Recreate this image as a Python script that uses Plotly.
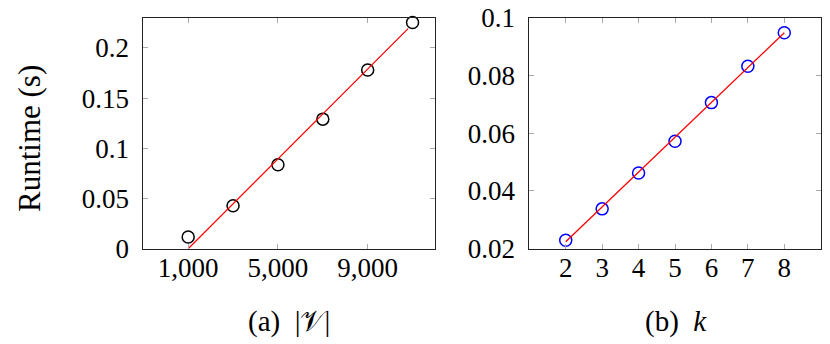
import plotly.graph_objects as go

# ---- data ----
v_sizes = [1000, 3000, 5000, 7000, 9000, 11000]
v_runtime = [0.0116, 0.0428, 0.0836, 0.129, 0.178, 0.2253]
v_fit_x = [1000, 10800]
v_fit_y = [0.0, 0.2191]

k_values = [2, 3, 4, 5, 6, 7, 8]
k_runtime = [0.0229, 0.0338, 0.0462, 0.0572, 0.0706, 0.0832, 0.0948]
k_fit_x = [2, 8]
k_fit_y = [0.0224, 0.0948]

left_xticks = [1000, 5000, 9000]
left_xticktext = ["1,000", "5,000", "9,000"]
left_yticks = [0, 0.05, 0.1, 0.15, 0.2]
left_yticktext = ["0", "0.05", "0.1", "0.15", "0.2"]
right_xticks = [2, 3, 4, 5, 6, 7, 8]
right_yticks = [0.02, 0.04, 0.06, 0.08, 0.1]
right_yticktext = ["0.02", "0.04", "0.06", "0.08", "0.1"]

W, H = 830, 344
FONT = "Liberation Serif"

fig = go.Figure()

fig.add_trace(go.Scatter(x=v_sizes, y=v_runtime, mode="markers",
                         marker=dict(symbol="circle-open", size=12, color="black",
                                     line=dict(width=1.5, color="black")),
                         xaxis="x", yaxis="y", showlegend=False, cliponaxis=False))
fig.add_trace(go.Scatter(x=v_fit_x, y=v_fit_y, mode="lines",
                         line=dict(color="#ff0000", width=1.3),
                         xaxis="x", yaxis="y", showlegend=False))
fig.add_trace(go.Scatter(x=k_values, y=k_runtime, mode="markers",
                         marker=dict(symbol="circle-open", size=12, color="#0000ff",
                                     line=dict(width=1.5, color="#0000ff")),
                         xaxis="x2", yaxis="y2", showlegend=False, cliponaxis=False))
fig.add_trace(go.Scatter(x=k_fit_x, y=k_fit_y, mode="lines",
                         line=dict(color="#ff0000", width=1.3),
                         xaxis="x2", yaxis="y2", showlegend=False))

def px_x(p):
    return p / W

def px_y(p):
    return (H - p) / H

axis_common = dict(showline=True, linecolor="#222", linewidth=1, mirror="ticks",
                   ticks="inside", ticklen=5, tickcolor="#aaa", tickwidth=1,
                   showgrid=False, zeroline=False, ticklabeloverflow="allow",
                   tickfont=dict(family=FONT, size=27, color="black"))

ydom = [px_y(248.7), px_y(17.7)]

fig.update_layout(
    width=W, height=H,
    margin=dict(l=0, r=0, t=0, b=0, autoexpand=False),
    paper_bgcolor="white", plot_bgcolor="white",
    xaxis=dict(domain=[px_x(143.3), px_x(435)], range=[-1000, 12000], anchor="y",
               tickvals=left_xticks, ticktext=left_xticktext, ticklabelstandoff=-5,
               **axis_common),
    yaxis=dict(domain=ydom, range=[0, 0.23], anchor="x",
               tickvals=left_yticks, ticktext=left_yticktext, ticklabelstandoff=8,
               **axis_common),
    xaxis2=dict(domain=[px_x(529.3), px_x(820.7)], range=[1, 9], anchor="y2",
                tickvals=right_xticks, ticklabelstandoff=-5, **axis_common),
    yaxis2=dict(domain=ydom, range=[0.02, 0.10001], anchor="x2",
                tickvals=right_yticks, ticktext=right_yticktext, ticklabelstandoff=8,
                **axis_common),
)

fig.add_annotation(text="Runtime (s)", textangle=-90, xref="paper", yref="paper",
                   x=px_x(29), y=px_y(139), xanchor="center", yanchor="middle",
                   showarrow=False, font=dict(family=FONT, size=31, color="black"))
fig.add_annotation(text="(a)  |𝒱|", xref="paper", yref="paper",
                   x=px_x(289), y=px_y(321), xanchor="center", yanchor="middle",
                   showarrow=False, font=dict(family=FONT, size=29, color="black"))
fig.add_annotation(text="(b)  <i>k</i>", xref="paper", yref="paper",
                   x=px_x(676), y=px_y(321), xanchor="center", yanchor="middle",
                   showarrow=False, font=dict(family=FONT, size=29, color="black"))

fig.write_html("out.html",
               config={"displayModeBar": False},
               post_script="document.body.style.margin='0';"
                           "document.body.style.overflow='hidden';")
